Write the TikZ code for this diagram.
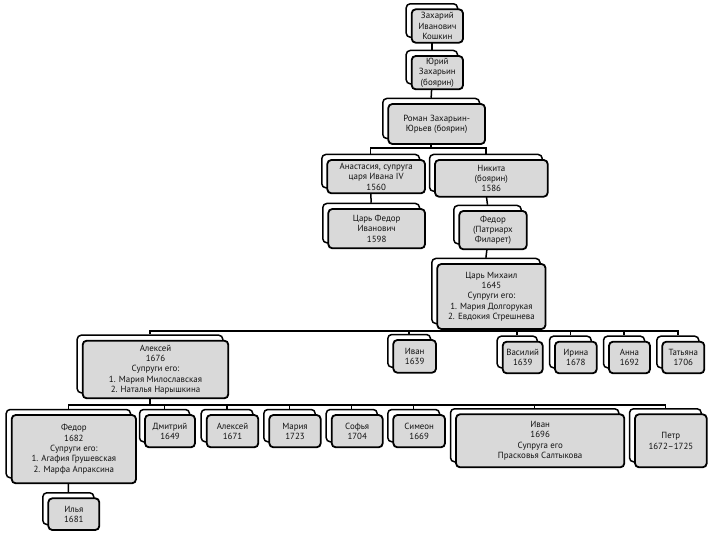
\documentclass[tikz,border=0pt]{standalone}
\usepackage{fontspec}
\setmainfont{PT Sans}
\usetikzlibrary{backgrounds}
\definecolor{boxgray}{HTML}{D9D9D9}
\definecolor{txt}{HTML}{111111}
\newcommand\famnode[6]{%
  \pgfmathsetmacro\fw{#4-#2}\pgfmathsetmacro\fh{#5-#3}%
  \pgfmathsetmacro\fx{(#2+#4)/2}\pgfmathsetmacro\fy{(#3+#5)/2}%
  \node[backbox,minimum width=\fw pt,minimum height=\fh pt] (#1b) at (\fx-5.5,\fy-5.5) {};
  \node[frontbox,minimum width=\fw pt,minimum height=\fh pt] (#1) at (\fx,\fy) {#6};
}
\begin{document}
\begin{tikzpicture}[x=1pt,y=-1pt,
  frontbox/.style={draw=black, line width=1.8pt, fill=boxgray, rounded corners=4pt,
    inner sep=1pt, align=center, font=\fontsize{8.9}{10.3}\selectfont, text=txt},
  backbox/.style={draw=black, line width=1.5pt, fill=white, rounded corners=4pt, inner sep=0pt},
  link/.style={draw=black, line width=1.5pt}]
\useasboundingbox (0,0) rectangle (711,534);
\famnode{zak}{411.7}{9.3}{463}{42.7}{Захарий\\Иванович\\Кошкин}
\famnode{yur}{411.7}{56}{463}{89.3}{Юрий\\Захарьин\\(боярин)}
\famnode{rom}{388.3}{104}{485}{144}{Роман Захарьин-\\Юрьев (боярин)}
\famnode{ana}{327.3}{160}{425}{193.3}{Анастасия, супруга\\царя Ивана IV\\1560}
\famnode{nik}{435}{160}{547.7}{196.7}{Никита\\(боярин)\\1586}
\famnode{cfe}{328.3}{209}{425}{248.3}{Царь Федор\\Иванович\\1598}
\famnode{fil}{459.3}{211}{526.7}{249.3}{Федор\\(Патриарх\\Филарет)}
\famnode{mih}{437.3}{264}{545.5}{329}{Царь Михаил\\1645\\Супруги его:\\1. Мария Долгорукая\\2. Евдокия Стрешнева}
\famnode{ale}{82.7}{340.7}{228.3}{398.3}{Алексей\\1676\\Супруги его:\\1. Мария Милославская\\2. Наталья Нарышкина}
\famnode{iva}{393.3}{340}{436}{372.7}{Иван\\1639}
\famnode{vas}{502.7}{341.7}{542.7}{373.3}{Василий\\1639}
\famnode{iri}{555}{341.7}{596.7}{373.3}{Ирина\\1678}
\famnode{ann}{609}{341.7}{650}{373.3}{Анна\\1692}
\famnode{tat}{662.3}{341.7}{704.3}{373.3}{Татьяна\\1706}
\famnode{fed}{11.7}{415}{136}{483.3}{Федор\\1682\\Супруги его:\\1. Агафия Грушевская\\2. Марфа Апраксина}
\famnode{dmi}{145}{415}{195}{447.3}{Дмитрий\\1649}
\famnode{alb}{206.7}{415}{258.3}{447.3}{Алексей\\1671}
\famnode{mar}{269.3}{415}{320.7}{447.3}{Мария\\1723}
\famnode{sof}{331.7}{415}{382.7}{447.3}{Софья\\1704}
\famnode{sim}{393.3}{415}{445}{447.3}{Симеон\\1669}
\famnode{ivb}{456}{414.3}{624.3}{467.3}{Иван\\1696\\Супруга его\\Прасковья Салтыкова}
\famnode{pet}{635}{414.3}{706.7}{467.3}{Петр\\1672–1725}
\famnode{ily}{48.3}{498.3}{99.3}{530}{Илья\\1681}
\coordinate (barR) at (0,148);
\coordinate (barM) at (0,331);
\coordinate (barA) at (0,405);
\begin{scope}[on background layer]
  \draw[link] (zakb.south) -- (yurb.north);
  \draw[link] (yurb.south) -- (romb.north);
  \foreach \c in {ana,nik}
    \draw[link] (romb.south) |- (\c b.north |- barR) -- (\c b.north);
  \draw[link] (anab.south) -- (cfeb.north);
  \draw[link] (nikb.south) -- (filb.north);
  \draw[link] (filb.south) -- (mihb.north);
  \foreach \c in {ale,iva,vas,iri,ann,tat}
    \draw[link] (mihb.south) |- (\c b.north |- barM) -- (\c b.north);
  \foreach \c in {fed,dmi,alb,mar,sof,sim,ivb,pet}
    \draw[link] (aleb.south) |- (\c b.north |- barA) -- (\c b.north);
  \draw[link] (fedb.south) -- (ilyb.north);
\end{scope}
\end{tikzpicture}
\end{document}
